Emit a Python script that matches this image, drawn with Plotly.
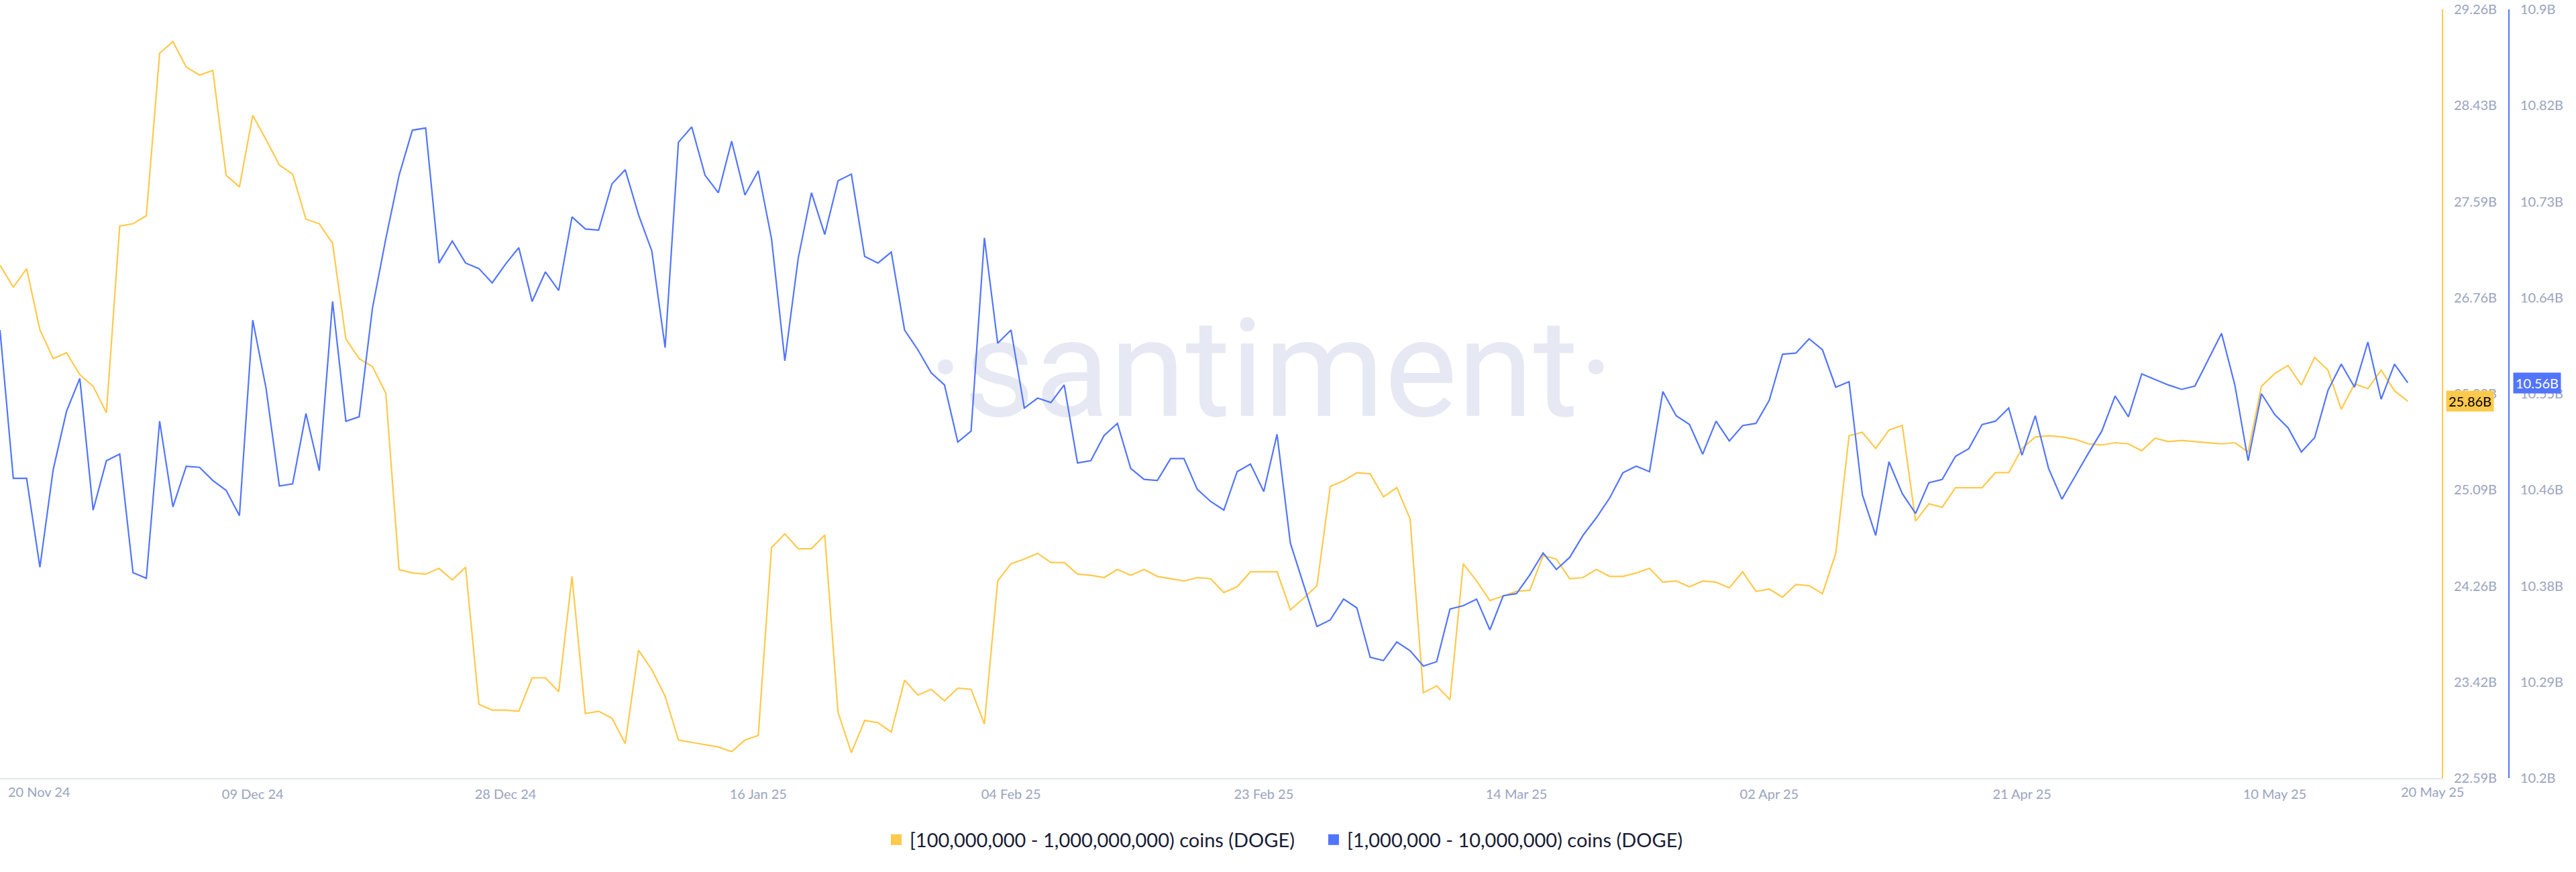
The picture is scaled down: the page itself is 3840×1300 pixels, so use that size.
import pandas as pd
import plotly.graph_objects as go

# ---------------- data ----------------
start_date = "2024-11-20"

# [100,000,000 - 1,000,000,000) coins (DOGE), in billions
holders_100m_1b = [
    27.04, 26.85, 27.01, 26.48, 26.23, 26.28, 26.09, 25.99, 25.76, 27.38,
    27.40, 27.47, 28.88, 28.98, 28.76, 28.69, 28.73, 27.82, 27.72, 28.34,
    28.13, 27.91, 27.83, 27.44, 27.40, 27.23, 26.40, 26.23, 26.16, 25.93,
    24.40, 24.37, 24.36, 24.41, 24.31, 24.42, 23.23, 23.18,
    23.18, 23.17, 23.46, 23.46, 23.34, 24.34, 23.15, 23.17, 23.11, 22.89,
    23.70, 23.53, 23.30, 22.92, 22.90, 22.88, 22.86, 22.82, 22.92, 22.96,
    24.59, 24.71, 24.58, 24.58, 24.70, 23.16, 22.81, 23.09, 23.07, 22.99,
    23.44, 23.31, 23.36, 23.26, 23.37, 23.36, 23.06,
    24.30, 24.45, 24.49, 24.54, 24.46, 24.46, 24.36, 24.35, 24.33, 24.40,
    24.35, 24.40, 24.34, 24.32, 24.30, 24.33, 24.32, 24.20, 24.25, 24.38,
    24.38, 24.38, 24.05, 24.15, 24.26, 25.12, 25.17, 25.24, 25.23, 25.03,
    25.11, 24.84, 23.33, 23.39, 23.27, 24.45, 24.30,
    24.13, 24.17, 24.21, 24.22, 24.52, 24.49, 24.32, 24.33, 24.40, 24.34,
    24.34, 24.37, 24.41, 24.29, 24.30, 24.25, 24.30, 24.29, 24.24, 24.38,
    24.21, 24.23, 24.16, 24.27, 24.26, 24.19, 24.54, 25.56, 25.59, 25.45,
    25.61, 25.65, 24.82, 24.97, 24.94, 25.11, 25.11,
    25.11, 25.24, 25.24, 25.45, 25.55, 25.56, 25.55, 25.53, 25.49, 25.48,
    25.50, 25.49, 25.43, 25.54, 25.51, 25.52, 25.51, 25.50, 25.49, 25.50,
    25.42, 25.99, 26.10, 26.17, 26.00, 26.24, 26.13, 25.79, 26.01, 25.97,
    26.13, 25.95, 25.86,
]

# [1,000,000 - 10,000,000) coins (DOGE), in billions
holders_1m_10m = [
    10.608, 10.473, 10.473, 10.392, 10.481, 10.534, 10.564, 10.444, 10.489, 10.495,
    10.387, 10.382, 10.525, 10.447, 10.484, 10.483, 10.471, 10.462, 10.439, 10.617,
    10.555, 10.466, 10.468, 10.532, 10.480, 10.634, 10.525, 10.529, 10.628, 10.691,
    10.749, 10.790, 10.792, 10.669, 10.689, 10.669, 10.664, 10.651,
    10.668, 10.683, 10.634, 10.661, 10.644, 10.711, 10.700, 10.699, 10.741, 10.754,
    10.713, 10.680, 10.592, 10.779, 10.793, 10.749, 10.733, 10.780, 10.731, 10.753,
    10.691, 10.580, 10.673, 10.733, 10.695, 10.744, 10.750, 10.675, 10.669, 10.679,
    10.608, 10.590, 10.569, 10.558, 10.506, 10.516, 10.692,
    10.596, 10.608, 10.537, 10.546, 10.542, 10.558, 10.487, 10.489, 10.512, 10.523,
    10.482, 10.472, 10.471, 10.491, 10.491, 10.463, 10.452, 10.444, 10.479, 10.486,
    10.461, 10.513, 10.414, 10.376, 10.338, 10.344, 10.363, 10.355, 10.310, 10.307,
    10.324, 10.316, 10.302, 10.306, 10.354, 10.357, 10.363,
    10.335, 10.366, 10.368, 10.385, 10.405, 10.390, 10.401, 10.421, 10.437, 10.455,
    10.478, 10.484, 10.479, 10.552, 10.530, 10.522, 10.495, 10.525, 10.507, 10.521,
    10.523, 10.544, 10.586, 10.587, 10.600, 10.590, 10.556, 10.561, 10.458, 10.421,
    10.488, 10.459, 10.441, 10.469, 10.472, 10.493, 10.500,
    10.522, 10.525, 10.537, 10.494, 10.530, 10.482, 10.454, 10.475, 10.496, 10.516,
    10.548, 10.529, 10.568, 10.563, 10.558, 10.554, 10.557, 10.581, 10.605, 10.558,
    10.489, 10.550, 10.531, 10.519, 10.497, 10.510, 10.553, 10.577, 10.556, 10.597,
    10.545, 10.577, 10.56,
]

series_names = [
    "[100,000,000 - 1,000,000,000) coins (DOGE)",
    "[1,000,000 - 10,000,000) coins (DOGE)",
]

x_tick_dates = ["2024-12-09", "2024-12-28", "2025-01-16", "2025-02-04", "2025-02-23",
                "2025-03-14", "2025-04-02", "2025-04-21", "2025-05-10"]
x_tick_labels = ["09 Dec 24", "28 Dec 24", "16 Jan 25", "04 Feb 25", "23 Feb 25",
                 "14 Mar 25", "02 Apr 25", "21 Apr 25", "10 May 25"]
x_first_label = "20 Nov 24"
x_last_label = "20 May 25"

y1_range = [22.59, 29.26]
y1_labels = ["22.59B", "23.42B", "24.26B", "25.09B", "25.93B", "26.76B", "27.59B", "28.43B", "29.26B"]
y2_range = [10.2, 10.9]
y2_labels = ["10.2B", "10.29B", "10.38B", "10.46B", "10.55B", "10.64B", "10.73B", "10.82B", "10.9B"]

last_y1_label = "25.86B"
last_y2_label = "10.56B"

# ---------------- styling ----------------
YEL = "#FFC94B"
BLUE = "#5275FF"
TICK_COLOR = "#9AA3C0"
FONT = "Lato"
W, H = 3840, 1300
PLOT_RIGHT = 3640
PLOT_TOP, PLOT_BOTTOM = 14, 1160
PLOT_H = PLOT_BOTTOM - PLOT_TOP

dates = pd.date_range(start_date, periods=len(holders_100m_1b), freq="D")
x_end = pd.Timestamp(start_date) + pd.Timedelta(days=183.56)


def even_ticks(rng, n):
    return [rng[0] + (rng[1] - rng[0]) * i / (n - 1) for i in range(n)]


fig = go.Figure()

# watermark (drawn first so the lines sit on top of it)
wm_x = pd.Timestamp(start_date) + pd.Timedelta(days=95.55)
fig.add_trace(go.Scatter(
    x=[wm_x], y=[26.03], mode="text", text=["·santiment·"],
    textfont=dict(family="Roboto", size=205, color="#E6E9F3"),
    hoverinfo="skip", showlegend=False, yaxis="y", cliponaxis=False,
))

fig.add_trace(go.Scatter(
    x=dates, y=holders_100m_1b, mode="lines", line=dict(color=YEL, width=2.2),
    name=series_names[0], showlegend=False, yaxis="y",
))
fig.add_trace(go.Scatter(
    x=dates, y=holders_1m_10m, mode="lines", line=dict(color=BLUE, width=2.2),
    name=series_names[1], showlegend=False, yaxis="y2",
))

# legend entries with square swatches (one legend per entry for exact placement)
for nm, col, lg in zip(series_names, [YEL, BLUE], ["legend", "legend2"]):
    fig.add_trace(go.Scatter(
        x=[None], y=[None], mode="markers", name=nm, legend=lg,
        marker=dict(symbol="square", size=17, color=col), yaxis="y",
    ))

legend_style = dict(
    orientation="h", xanchor="left",
    y=-(1252 - PLOT_BOTTOM) / PLOT_H, yanchor="middle",
    font=dict(family=FONT, size=29, color="#1A1D35"),
    bgcolor="rgba(0,0,0,0)", itemclick=False, itemdoubleclick=False,
)

fig.update_layout(
    width=W, height=H,
    margin=dict(l=0, r=0, t=PLOT_TOP, b=H - PLOT_BOTTOM, pad=0),
    paper_bgcolor="white", plot_bgcolor="white",
    font=dict(family=FONT, color=TICK_COLOR, size=20),
    showlegend=True,
    legend=dict(x=1316 / W, **legend_style),
    legend2=dict(x=1968 / W, **legend_style),
    xaxis=dict(
        type="date", domain=[0, PLOT_RIGHT / W],
        range=[pd.Timestamp(start_date), x_end],
        tickvals=x_tick_dates, ticktext=x_tick_labels,
        showgrid=False, zeroline=False,
        showline=True, linecolor="#E3E7F0", linewidth=2,
        ticks="", ticklabelstandoff=5,
        tickfont=dict(family=FONT, size=20, color=TICK_COLOR),
    ),
    yaxis=dict(
        side="right", anchor="x", range=y1_range,
        tickvals=even_ticks(y1_range, len(y1_labels)), ticktext=y1_labels,
        showgrid=False, zeroline=False,
        showline=True, linecolor=YEL, linewidth=2,
        ticks="", ticklabelstandoff=12,
        tickfont=dict(family=FONT, size=20, color=TICK_COLOR),
    ),
    yaxis2=dict(
        side="right", overlaying="y", anchor="free", position=3740 / W,
        range=y2_range,
        tickvals=even_ticks(y2_range, len(y2_labels)), ticktext=y2_labels,
        showgrid=False, zeroline=False,
        showline=True, linecolor=BLUE, linewidth=2,
        ticks="", ticklabelstandoff=12,
        tickfont=dict(family=FONT, size=20, color=TICK_COLOR),
    ),
    annotations=[
        dict(text=x_first_label, xref="paper", x=10 / W, xanchor="left",
             yref="paper", y=-(1180 - PLOT_BOTTOM) / PLOT_H, yanchor="middle",
             showarrow=False, font=dict(family=FONT, size=20, color=TICK_COLOR)),
        dict(text=x_last_label, xref="paper", x=3675 / W, xanchor="right",
             yref="paper", y=-(1180 - PLOT_BOTTOM) / PLOT_H, yanchor="middle",
             showarrow=False, font=dict(family=FONT, size=20, color=TICK_COLOR)),
        dict(text=last_y1_label, xref="paper", x=3646 / W, xanchor="left",
             yref="y", y=holders_100m_1b[-1], yanchor="middle",
             showarrow=False, bgcolor=YEL, borderpad=3,
             font=dict(family=FONT, size=20, color="#000000")),
        dict(text=last_y2_label, xref="paper", x=3746 / W, xanchor="left",
             yref="y2", y=holders_1m_10m[-1], yanchor="middle",
             showarrow=False, bgcolor=BLUE, borderpad=3,
             font=dict(family=FONT, size=20, color="#FFFFFF")),
    ],
)

fig.write_html(
    "out.html",
    config={"displayModeBar": False},
    post_script="document.body.style.margin='0px';document.body.style.padding='0px';"
                "document.body.style.overflow='hidden';",
)
